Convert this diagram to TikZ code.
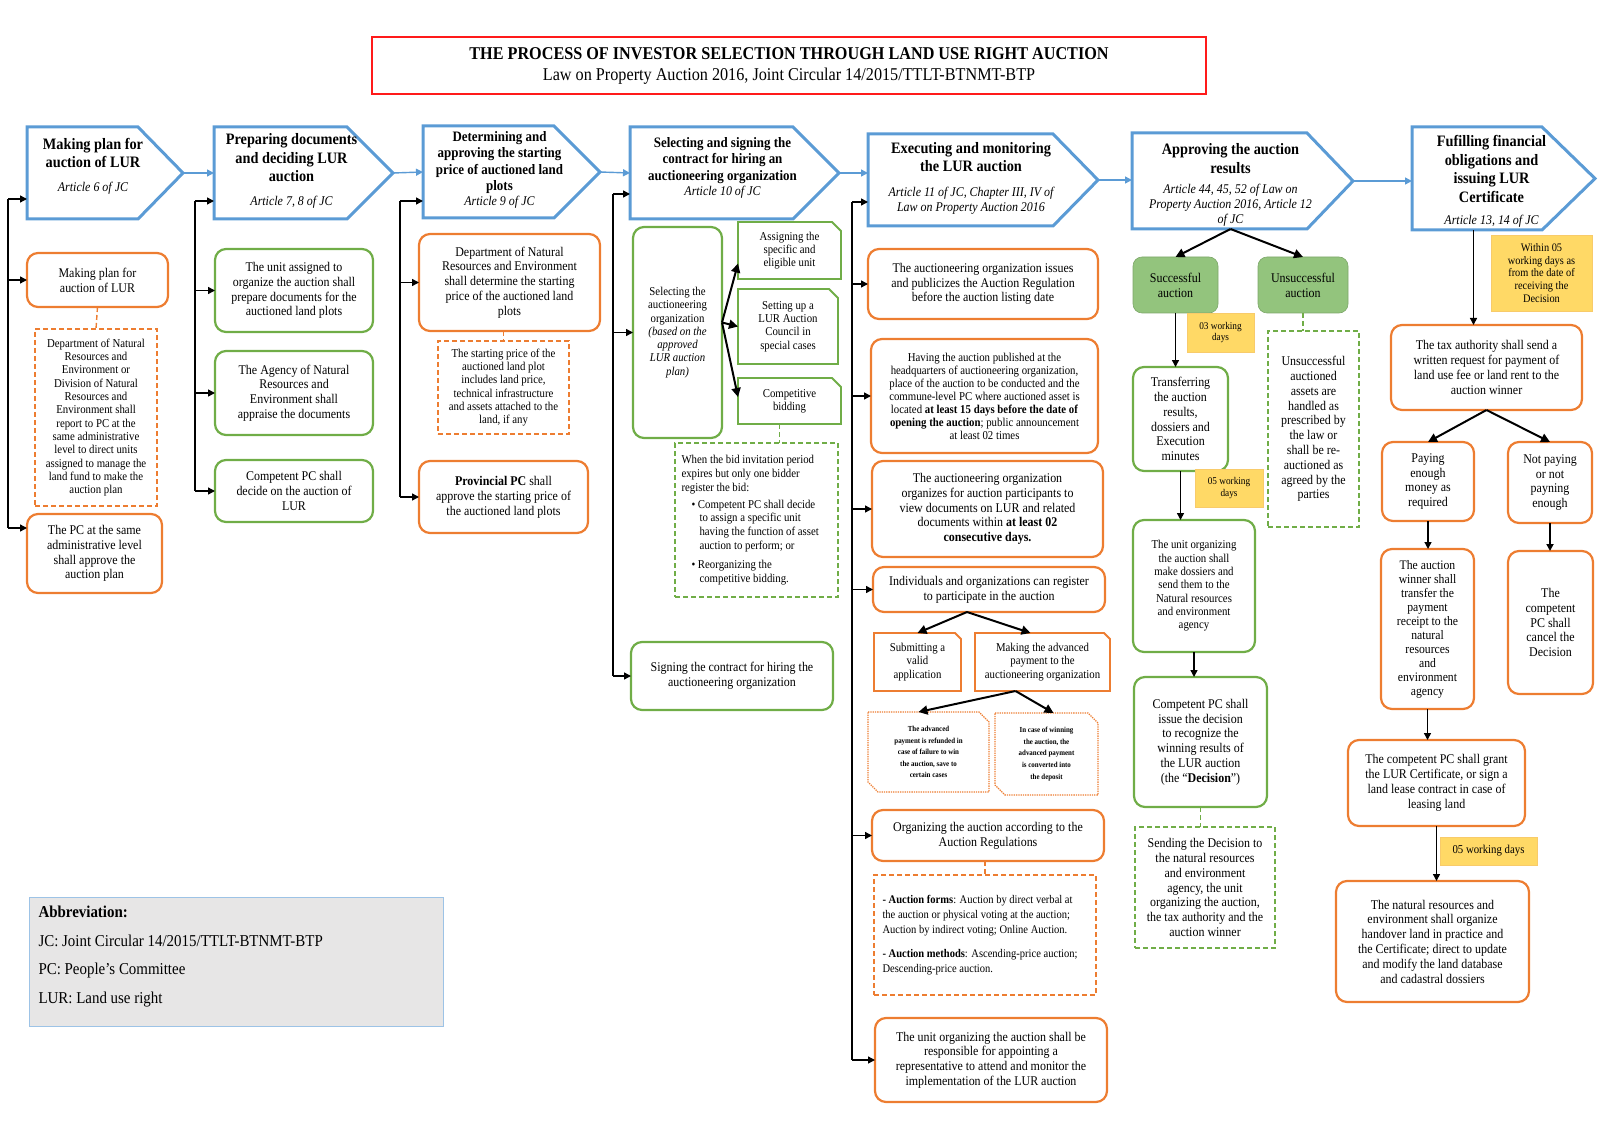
\documentclass[tikz,border=0pt]{standalone}
\usepackage{fontspec}
\setmainfont{Liberation Serif}[FakeStretch=0.9]
\usetikzlibrary{calc,positioning,arrows.meta}
\definecolor{HeadBlue}{HTML}{5B9BD5}
\definecolor{BoxOrange}{HTML}{ED7D31}
\definecolor{BoxGreen}{HTML}{70AD47}
\definecolor{NoteFill}{HTML}{FFD966}
\definecolor{NoteEdge}{HTML}{F8CB6A}
\definecolor{GreenFill}{HTML}{93C47D}
\definecolor{TitleRed}{HTML}{FF1A1A}
\definecolor{AbbrFill}{HTML}{E7E6E6}
\definecolor{AbbrEdge}{HTML}{9DC3E6}

% font sizes (1pt = 1px of the chart)
\newcommand{\fsTitle}{\fontsize{18}{21}\selectfont}
\newcommand{\fsHead}{\fontsize{15.9}{18.5}\selectfont\bfseries}
\newcommand{\fsHeadS}{\fontsize{14.4}{16.3}\selectfont\bfseries}
\newcommand{\fsArt}{\fontsize{13.3}{15}\selectfont\mdseries\itshape}
\newcommand{\fsBody}{\fontsize{13.3}{14.8}\selectfont}
\newcommand{\fsSmall}{\fontsize{12}{13.3}\selectfont}
\newcommand{\fsTiny}{\fontsize{7.7}{11.6}\selectfont\bfseries}
\newcommand{\fsNote}{\fontsize{10.3}{11.7}\selectfont}
\newcommand{\fsAbbr}{\fontsize{16.6}{28.6}\selectfont}

% arrow shaped step header around a node
\newcommand{\headshape}[2]{%
  \draw[headline] (#1.north west) -- ([xshift=-#2pt]#1.north east)
    -- ([xshift=24pt]#1.east) -- ([xshift=-#2pt]#1.south east)
    -- (#1.south west) -- cycle;
  \coordinate (#1tip) at ([xshift=24pt]#1.east);}
% boxes with cut corners
\newcommand{\snipone}[3]{%
  \draw[#3] (#1.north west) -- ([xshift=-#2]#1.north east)
    -- ([yshift=-#2]#1.north east) -- (#1.south east) -- (#1.south west) -- cycle;}
\newcommand{\sniptwo}[3]{%
  \draw[#3] (#1.north west) -- ([xshift=-#2]#1.north east)
    -- ([yshift=-#2]#1.north east) -- (#1.south east)
    -- ([xshift=#2]#1.south west) -- ([yshift=#2]#1.south west) -- cycle;}

\begin{document}
\begin{tikzpicture}[x=1pt,y=-1pt,
    spot/.style n args={4}{at={({(#1+#3)/2},{(#2+#4)/2})},
      minimum width=#3pt-#1pt, minimum height=#4pt-#2pt},
    cell/.style={inner sep=0pt, outer sep=0pt, align=center},
    headtext/.style={cell, font=\fsHead},
    headline/.style={draw=HeadBlue, line width=3pt, line join=miter},
    obox/.style={cell, draw=BoxOrange, line width=2.2pt, rounded corners=11pt, font=\fsBody},
    gbox/.style={cell, draw=BoxGreen, line width=2.2pt, rounded corners=11pt, font=\fsBody},
    odash/.style={cell, draw=BoxOrange, line width=1.4pt, dash pattern=on 5pt off 3pt, font=\fsSmall},
    gdash/.style={cell, draw=BoxGreen, line width=1.4pt, dash pattern=on 5pt off 3pt, font=\fsBody},
    gfill/.style={cell, fill=GreenFill, draw=GreenFill!85!black, line width=0.6pt, rounded corners=9pt, font=\fsBody},
    note/.style={cell, fill=NoteFill, draw=NoteEdge, line width=0.6pt, font=\fsNote},
    bus/.style={line width=1.4pt},
    arr/.style={-{Triangle[length=7pt,width=7pt]}, line width=1.4pt},
    fan/.style={-{Triangle[length=9pt,width=9pt]}, line width=2pt},
    flow/.style={-{Triangle[length=7pt,width=7pt]}, draw=HeadBlue, fill=HeadBlue, line width=1.4pt},
    link/.style={line width=1.4pt, dash pattern=on 5pt off 3pt}
  ]
  \useasboundingbox (0,0) rectangle (1600,1131);

  % title
  \node[cell, draw=TitleRed, line width=1.5pt, spot={372}{37}{1206}{94}, font=\fsTitle] (title)
    {\textbf{THE PROCESS OF INVESTOR SELECTION THROUGH LAND USE RIGHT AUCTION}\\
     Law on Property Auction 2016, Joint Circular 14/2015/TTLT-BTNMT-BTP};

  % step headers
  \node[cell, spot={27}{127}{159}{219}] (h1) {};
  \headshape{h1}{21}
  \node[headtext, yshift=7pt] (h1t) at (h1)
    {Making plan for\\ auction of LUR\\[5pt] {\fsArt Article 6 of JC}};
  \node[cell, spot={214}{127}{369}{219}] (h2) {};
  \headshape{h2}{22}
  \node[headtext, yshift=2pt] (h2t) at (h2)
    {Preparing documents\\ and deciding LUR\\ auction\\[5pt] {\fsArt Article 7, 8 of JC}};
  \node[cell, spot={423}{126}{576}{218}] (h3) {};
  \headshape{h3}{22}
  \node[headtext, font=\fsHeadS, yshift=2pt] (h3t) at (h3)
    {Determining and\\ approving the starting\\ price of auctioned land\\ plots\\[-1pt] {\fsArt Article 9 of JC}};
  \node[cell, spot={630}{127}{815}{219}] (h4) {};
  \headshape{h4}{22}
  \node[headtext, font=\fsHeadS, yshift=5pt] (h4t) at (h4)
    {Selecting and signing the\\ contract for hiring an\\ auctioneering organization\\[-1pt] {\fsArt Article 10 of JC}};
  \node[cell, spot={868}{134}{1074}{226}] (h5) {};
  \headshape{h5}{21}
  \node[headtext, yshift=2pt] (h5t) at (h5)
    {Executing and monitoring\\ the LUR auction\\[6pt] {\fsArt Article 11 of JC, Chapter III, IV of}\\[-3.5pt]
     {\fsArt Law on Property Auction 2016}};
  \node[cell, spot={1132}{133}{1329}{229}] (h6) {};
  \headshape{h6}{22}
  \node[headtext, yshift=-4pt] (h6t) at (h6)
    {Approving the auction\\ results\\[2pt] {\fsArt Article 44, 45, 52 of Law on}\\[-3.5pt]
     {\fsArt Property Auction 2016, Article 12}\\[-3.5pt] {\fsArt of JC}};
  \node[cell, spot={1412}{127}{1571}{230}] (h7) {};
  \headshape{h7}{29}
  \node[headtext, yshift=-3pt] (h7t) at (h7)
    {Fufilling financial\\ obligations and\\ issuing LUR\\ Certificate\\[3.5pt] {\fsArt Article 13, 14 of JC}};

  \draw[flow] (h1tip) -- (h2.west);
  \draw[flow] (h2tip) -- (h3.west);
  \draw[flow] (h3tip) -- (h4.west);
  \draw[flow] (h4tip) -- (h4tip -| h5.west);
  \draw[flow] (h5tip) -- (h5tip -| h6.west);
  \draw[flow] (h6tip) -- (h6tip -| h7.west);

  % column 1
  \node[obox, spot={27}{253}{168}{307}] (a1) {Making plan for\\ auction of LUR};
  \node[odash, spot={35}{329}{157}{506}] (a2)
    {Department of Natural\\ Resources and\\ Environment or\\ Division of Natural\\ Resources and\\
     Environment shall\\ report to PC at the\\ same administrative\\ level to direct units\\
     assigned to manage the\\ land fund to make the\\ auction plan};
  \node[obox, spot={27}{514}{162}{593}] (a3)
    {The PC at the same\\ administrative level\\ shall approve the\\ auction plan};
  \draw[link, BoxOrange] (a1.south) -- (a2.north);
  \coordinate (s1) at (8,199);
  \coordinate (s1b) at (8,528);
  \draw[bus] (s1) -- (s1b);
  \draw[arr] (s1) -- (s1 -| h1.west);
  \draw[arr] (s1 |- a1.west) -- (a1.west);
  \draw[arr] (s1b) -- (s1b -| a3.west);

  % column 2
  \node[gbox, spot={215}{249}{373}{332}] (b1)
    {The unit assigned to\\ organize the auction shall\\ prepare documents for the\\ auctioned land plots};
  \node[gbox, spot={215}{351}{373}{435}] (b2)
    {The Agency of Natural\\ Resources and\\ Environment shall\\ appraise the documents};
  \node[gbox, spot={215}{460}{373}{522}] (b3)
    {Competent PC shall\\ decide on the auction of\\ LUR};
  \coordinate (s2) at (195,201);
  \draw[bus] (s2) -- (s2 |- b3.west);
  \draw[arr] (s2) -- (s2 -| h2.west);
  \draw[arr] (s2 |- b1.west) -- (b1.west);
  \draw[arr] (s2 |- b2.west) -- (b2.west);
  \draw[arr] (s2 |- b3.west) -- (b3.west);

  % column 3
  \node[obox, spot={419}{234}{600}{331}] (c1)
    {Department of Natural\\ Resources and Environment\\ shall determine the starting\\ price of the auctioned land\\ plots};
  \node[odash, spot={438}{341}{569}{434}] (c2)
    {The starting price of the\\ auctioned land plot\\ includes land price,\\ technical infrastructure\\
     and assets attached to the\\ land, if any};
  \node[obox, spot={419}{461}{588}{533}] (c3)
    {\textbf{Provincial PC} shall\\ approve the starting price of\\ the auctioned land plots};
  \draw[link, BoxOrange] (c2.north |- c1.south) -- (c2.north);
  \coordinate (s3) at (400,201);
  \draw[bus] (s3) -- (s3 |- c3.west);
  \draw[arr] (s3) -- (s3 -| h3.west);
  \draw[arr] (s3 |- c1.west) -- (c1.west);
  \draw[arr] (s3 |- c3.west) -- (c3.west);

  % column 4
  \node[gbox, font=\fsSmall, spot={633}{227}{722}{438}] (d1)
    {Selecting the\\ auctioneering\\ organization\\ \textit{(based on the}\\ \textit{approved}\\
     \textit{LUR auction}\\ \textit{plan)}};
  \node[cell, font=\fsSmall, spot={738}{222}{841}{279}] (d2) {Assigning the\\ specific and\\ eligible unit};
  \node[cell, font=\fsSmall, spot={738}{289}{838}{364}] (d3) {Setting up a\\ LUR Auction\\ Council in\\ special cases};
  \node[cell, font=\fsSmall, spot={738}{378}{841}{424}] (d4) {Competitive\\ bidding};
  \snipone{d2}{9pt}{draw=BoxGreen, line width=1.8pt}
  \snipone{d3}{9pt}{draw=BoxGreen, line width=1.8pt}
  \snipone{d4}{9pt}{draw=BoxGreen, line width=1.8pt}
  \node[gdash, font=\fontsize{12}{13.8}\selectfont, spot={675}{443}{838}{597}] (d5)
    {\parbox{150pt}{\raggedright When the bid invitation period\\ expires but only one bidder\\ register the bid:\\[3pt]
     \hspace*{10pt}\textbullet\ Competent PC shall decide\\ \hspace*{18pt}to assign a specific unit\\
     \hspace*{18pt}having the function of asset\\ \hspace*{18pt}auction to perform; or\\[5pt]
     \hspace*{10pt}\textbullet\ Reorganizing the\\ \hspace*{18pt}competitive bidding.}};
  \node[gbox, spot={631}{642}{833}{710}] (d7)
    {Signing the contract for hiring the\\ auctioneering organization};
  \draw[fan] ([yshift=10pt]d1.east) -- ([yshift=-13pt]d2.west);
  \draw[fan] ([yshift=10pt]d1.east) -- (d3.west);
  \draw[fan] ([yshift=10pt]d1.east) -- ([yshift=4pt]d4.west);
  \draw[link, BoxGreen] ([xshift=-10pt]d4.south) -- ([xshift=-10pt]d4.south |- d5.north);
  \coordinate (s4) at (613,194);
  \draw[bus] (s4) -- (s4 |- d7.west);
  \draw[arr] (s4) -- (s4 -| h4.west);
  \draw[arr] (s4 |- d1.west) -- (d1.west);
  \draw[arr] (s4 |- d7.west) -- (d7.west);

  % column 5
  \node[obox, spot={868}{249}{1098}{319}] (e1)
    {The auctioneering organization issues\\ and publicizes the Auction Regulation\\ before the auction listing date};
  \node[obox, font=\fontsize{12}{13}\selectfont, spot={871}{339}{1098}{453}] (e2)
    {Having the auction published at the\\ headquarters of auctioneering organization,\\
     place of the auction to be conducted and the\\ commune-level PC where auctioned asset is\\
     located \textbf{at least 15 days before the date of}\\ \textbf{opening the auction}; public announcement\\ at least 02 times};
  \node[obox, spot={872}{461}{1103}{557}] (e3)
    {The auctioneering organization\\ organizes for auction participants to\\ view documents on LUR and related\\
     documents within \textbf{at least 02}\\ \textbf{consecutive days.}};
  \node[obox, spot={873}{567}{1105}{612}] (e4)
    {Individuals and organizations can register\\ to participate in the auction};
  \node[cell, font=\fsSmall, spot={874}{633}{961}{691}] (e5) {Submitting a\\ valid\\ application};
  \node[cell, font=\fsSmall, spot={975}{633}{1110}{691}] (e6)
    {Making the advanced\\ payment to the\\ auctioneering organization};
  \snipone{e5}{6pt}{draw=BoxOrange, line width=1.8pt}
  \snipone{e6}{6pt}{draw=BoxOrange, line width=1.8pt}
  \node[cell, font=\fsTiny, spot={868}{712}{989}{792}] (e7)
    {The advanced\\ payment is refunded in\\ case of failure to win\\ the auction, save to\\ certain cases};
  \node[cell, font=\fsTiny, spot={995}{713}{1098}{795}] (e8)
    {In case of winning\\ the auction, the\\ advanced payment\\ is converted into\\ the deposit};
  \sniptwo{e7}{10pt}{draw=BoxOrange, line width=1.3pt, densely dotted}
  \sniptwo{e8}{10pt}{draw=BoxOrange, line width=1.3pt, densely dotted}
  \node[obox, spot={872}{810}{1104}{861}] (e9)
    {Organizing the auction according to the\\ Auction Regulations};
  \node[odash, font=\fontsize{11.7}{15}\selectfont, spot={874}{875}{1096}{995}] (e10)
    {\parbox{205pt}{\raggedright \textbf{- Auction forms}: Auction by direct verbal at\\
     the auction or physical voting at the auction;\\ Auction by indirect voting; Online Auction.\\[9pt]
     \textbf{- Auction methods}: Ascending-price auction;\\ Descending-price auction.}};
  \node[obox, spot={875}{1018}{1107}{1102}] (e11)
    {The unit organizing the auction shall be\\ responsible for appointing a\\
     representative to attend and monitor the\\ implementation of the LUR auction};
  \draw[fan] ([xshift=-22pt]e4.south) -- (e5.north);
  \draw[fan] ([xshift=-22pt]e4.south) -- ([xshift=-12pt]e6.north);
  \draw[fan] ([xshift=-27pt]e6.south) -- ([xshift=-10pt]e7.north);
  \draw[fan] ([xshift=-27pt]e6.south) -- ([xshift=7pt]e8.north);
  \draw[link, BoxOrange] (e10.north |- e9.south) -- (e10.north);
  \coordinate (s5) at (852,202);
  \draw[bus] (s5) -- (s5 |- e11.west);
  \draw[arr] (s5) -- (s5 -| h5.west);
  \foreach \n in {e1,e2,e3,e4,e9,e11}
    \draw[arr] (s5 |- \n.west) -- (\n.west);

  % column 6
  \node[gfill, spot={1133}{257}{1218}{313}] (f1) {Successful\\ auction};
  \node[gfill, spot={1258}{257}{1348}{313}] (f2) {Unsuccessful\\ auction};
  \node[note, spot={1187}{313}{1254}{352}] (n1) {03 working\\ days};
  \node[gbox, spot={1133}{367}{1228}{471}] (f3)
    {Transferring\\ the auction\\ results,\\ dossiers and\\ Execution\\ minutes};
  \node[gdash, spot={1268}{331}{1359}{527}] (f4)
    {Unsuccessful\\ auctioned\\ assets are\\ handled as\\ prescribed by\\ the law or\\ shall be re-\\
     auctioned as\\ agreed by the\\ parties};
  \node[note, spot={1195}{469}{1263}{507}] (n2) {05 working\\ days};
  \node[gbox, font=\fsSmall, spot={1133}{520}{1255}{652}] (f5)
    {The unit organizing\\ the auction shall\\ make dossiers and\\ send them to the\\ Natural resources\\
     and environment\\ agency};
  \node[gbox, spot={1134}{677}{1267}{807}] (f6)
    {Competent PC shall\\ issue the decision\\ to recognize the\\ winning results of\\ the LUR auction\\
     (the “\textbf{Decision}”)};
  \node[gdash, spot={1135}{827}{1275}{948}] (f7)
    {Sending the Decision to\\ the natural resources\\ and environment\\ agency, the unit\\
     organizing the auction,\\ the tax authority and the\\ auction winner};
  \draw[fan] (h6.south) -- (f1.north);
  \draw[fan] (h6.south) -- (f2.north);
  \draw[arr] (f1.south) -- (f1.south |- f3.north);
  \draw[arr] (f3.south) -- (f3.south |- f5.north);
  \draw[arr] (f5.south) -- (f5.south |- f6.north);
  \draw[link, BoxGreen] (f2.south) -- (f2.south |- f4.north);
  \draw[link, BoxGreen] (f6.south) -- (f6.south |- f7.north);

  % column 7
  \node[note, font=\fontsize{11.5}{12.8}\selectfont, spot={1491}{235}{1592}{311}] (n3)
    {Within 05\\ working days as\\ from the date of\\ receiving the\\ Decision};
  \node[obox, spot={1391}{325}{1582}{410}] (g1)
    {The tax authority shall send a\\ written request for payment of\\ land use fee or land rent to the\\ auction winner};
  \node[obox, spot={1382}{442}{1474}{521}] (g2) {Paying\\ enough\\ money as\\ required};
  \node[obox, spot={1508}{442}{1592}{523}] (g3) {Not paying\\ or not\\ payning\\ enough};
  \node[obox, font=\fontsize{13}{14}\selectfont, spot={1381}{549}{1474}{709}] (g4)
    {The auction\\ winner shall\\ transfer the\\ payment\\ receipt to the\\ natural\\ resources\\ and\\ environment\\ agency};
  \node[obox, spot={1508}{551}{1593}{694}] (g5) {The\\ competent\\ PC shall\\ cancel the\\ Decision};
  \node[obox, spot={1348}{740}{1525}{826}] (g6)
    {The competent PC shall grant\\ the LUR Certificate, or sign a\\ land lease contract in case of\\ leasing land};
  \node[note, font=\fsSmall, spot={1440}{837}{1537}{865}] (n4) {05 working days};
  \node[obox, spot={1336}{881}{1529}{1002}] (g7)
    {The natural resources and\\ environment shall organize\\ handover land in practice and\\
     the Certificate; direct to update\\ and modify the land database\\ and cadastral dossiers};
  \draw[arr] ([xshift=-18pt]h7.south) -- ([xshift=-18pt]h7.south |- g1.north);
  \draw[fan] (g1.south) -- (g2.north);
  \draw[fan] (g1.south) -- (g3.north);
  \draw[arr] (g2.south) -- (g2.south |- g4.north);
  \draw[arr, line width=2.4pt] (g3.south) -- (g3.south |- g5.north);
  \draw[arr] (g4.south) -- (g4.south |- g6.north);
  \draw[arr] (g6.south) -- (g6.south |- g7.north);

  % abbreviations
  \node[cell, draw=AbbrEdge, fill=AbbrFill, line width=0.8pt, font=\fsAbbr, spot={29}{897}{443}{1026}] (abbr)
    {\parbox{395pt}{\raggedright \textbf{Abbreviation:}\\ JC: Joint Circular 14/2015/TTLT-BTNMT-BTP\\
     PC: People’s Committee\\ LUR: Land use right\par\vspace{10pt}}};
\end{tikzpicture}
\end{document}
